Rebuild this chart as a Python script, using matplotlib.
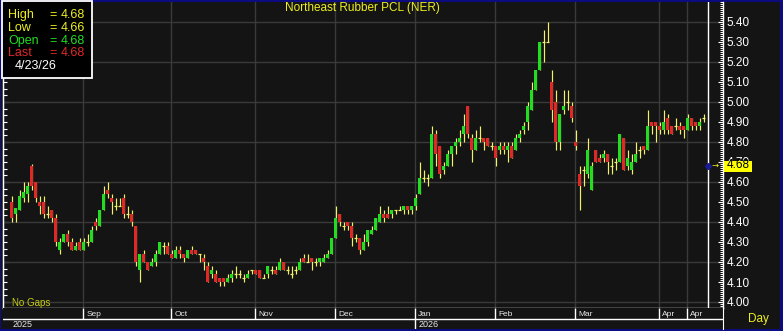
import matplotlib
matplotlib.use("Agg")
import matplotlib.pyplot as plt
import matplotlib.transforms as mtransforms
from matplotlib.patches import Rectangle
from matplotlib.ticker import MultipleLocator, FixedLocator
import numpy as np

plt.rcParams['font.family'] = ['Liberation Sans', 'DejaVu Sans']

# ---------------- data ----------------
title = "Northeast Rubber PCL (NER)"

opens = [4.50,4.44,4.46,4.52,4.54,4.68,4.60,4.50,4.50,4.44,
         4.46,4.42,4.26,4.30,4.34,4.30,4.26,4.30,4.26,4.30,
         4.30,4.40,4.38,4.46,4.56,4.52,4.48,4.48,4.52,4.44,
         4.44,4.38,4.16,4.24,4.20,4.18,4.20,4.24,4.28,4.28,
         4.24,4.22,4.26,4.24,4.22,4.26,4.26,4.24,4.22,4.18,
         4.14,4.14,4.12,4.12,4.10,4.12,4.14,4.14,4.12,4.12,
         4.16,4.16,4.16,4.12,4.14,4.16,4.16,4.16,4.20,4.16,
         4.14,4.16,4.16,4.22,4.20,4.22,4.20,4.20,4.20,4.22,
         4.24,4.32,4.44,4.38,4.40,4.38,4.32,4.32,4.26,4.30,
         4.34,4.36,4.40,4.44,4.44,4.44,4.46,4.46,4.46,4.48,
         4.46,4.48,4.54,4.62,4.62,4.62,4.84,4.78,4.66,4.68,
         4.74,4.78,4.80,4.84,4.98,4.82,4.76,4.82,4.82,4.82,
         4.78,4.78,4.76,4.78,4.76,4.78,4.76,4.82,4.86,4.90,
         4.96,5.06,5.16,5.30,5.30,5.10,5.00,4.80,4.96,5.00,
         4.98,4.80,4.64,4.66,4.64,4.56,4.76,4.72,4.72,4.74,
         4.68,4.70,4.70,4.82,4.68,4.66,4.70,4.76,4.78,4.76,
         4.90,4.90,4.88,4.86,4.92,4.88,4.88,4.88,4.88,4.86,
         4.92,4.90,4.88,4.92]
highs = [4.53,4.47,4.56,4.60,4.60,4.69,4.60,4.53,4.53,4.48,
         4.46,4.44,4.32,4.34,4.36,4.32,4.30,4.32,4.32,4.34,
         4.38,4.42,4.46,4.58,4.60,4.54,4.52,4.52,4.54,4.48,
         4.46,4.38,4.24,4.26,4.20,4.22,4.26,4.30,4.30,4.30,
         4.26,4.28,4.28,4.24,4.26,4.28,4.26,4.24,4.24,4.20,
         4.18,4.16,4.12,4.12,4.14,4.16,4.18,4.16,4.14,4.16,
         4.16,4.16,4.16,4.14,4.18,4.18,4.18,4.22,4.20,4.18,
         4.18,4.18,4.22,4.24,4.24,4.22,4.22,4.22,4.24,4.26,
         4.32,4.48,4.44,4.40,4.40,4.40,4.34,4.32,4.34,4.36,
         4.38,4.42,4.48,4.46,4.48,4.46,4.46,4.48,4.48,4.48,
         4.48,4.54,4.70,4.66,4.64,4.88,4.86,4.78,4.70,4.76,
         4.78,4.82,4.86,4.94,4.98,4.84,4.86,4.88,4.82,4.82,
         4.80,4.78,4.80,4.80,4.80,4.80,4.84,4.86,4.90,5.00,
         5.10,5.16,5.30,5.36,5.40,5.16,5.06,4.94,5.06,5.06,
         5.00,4.86,4.68,4.68,4.82,4.70,4.76,4.74,4.76,4.74,
         4.72,4.72,4.84,4.82,4.76,4.74,4.80,4.78,4.78,4.96,
         4.90,4.90,4.90,4.96,4.94,4.88,4.92,4.90,4.88,4.94,
         4.92,4.90,4.92,4.94]
lows = [4.40,4.40,4.46,4.50,4.50,4.56,4.50,4.44,4.42,4.42,
        4.40,4.28,4.24,4.30,4.28,4.26,4.26,4.26,4.26,4.28,
        4.30,4.36,4.38,4.46,4.52,4.44,4.46,4.48,4.42,4.42,
        4.38,4.18,4.10,4.20,4.16,4.18,4.18,4.24,4.24,4.24,
        4.22,4.22,4.22,4.20,4.22,4.24,4.24,4.20,4.16,4.10,
        4.12,4.10,4.08,4.08,4.10,4.10,4.12,4.12,4.10,4.12,
        4.14,4.14,4.12,4.12,4.12,4.14,4.14,4.16,4.16,4.14,
        4.12,4.14,4.16,4.20,4.20,4.16,4.18,4.18,4.20,4.22,
        4.24,4.32,4.38,4.36,4.36,4.28,4.30,4.24,4.26,4.28,
        4.34,4.36,4.40,4.40,4.42,4.42,4.44,4.46,4.44,4.44,
        4.44,4.46,4.54,4.60,4.58,4.62,4.68,4.62,4.64,4.68,
        4.68,4.74,4.78,4.80,4.82,4.70,4.76,4.80,4.76,4.78,
        4.76,4.68,4.74,4.74,4.70,4.72,4.76,4.80,4.84,4.86,
        4.96,5.06,5.16,5.20,5.30,4.90,4.76,4.76,4.94,4.96,
        4.90,4.76,4.46,4.58,4.62,4.56,4.70,4.70,4.70,4.64,
        4.64,4.66,4.70,4.66,4.66,4.64,4.70,4.72,4.74,4.76,
        4.84,4.80,4.84,4.84,4.84,4.84,4.86,4.84,4.82,4.86,
        4.86,4.86,4.86,4.90]
closes = [4.42,4.47,4.53,4.55,4.58,4.58,4.52,4.48,4.44,4.44,
          4.42,4.30,4.30,4.34,4.30,4.26,4.28,4.26,4.30,4.30,
          4.36,4.38,4.46,4.54,4.54,4.50,4.48,4.48,4.44,4.44,
          4.40,4.20,4.24,4.20,4.16,4.20,4.24,4.30,4.28,4.24,
          4.22,4.26,4.24,4.22,4.26,4.24,4.24,4.24,4.20,4.10,
          4.16,4.10,4.10,4.10,4.12,4.14,4.14,4.14,4.12,4.14,
          4.16,4.14,4.12,4.12,4.18,4.16,4.14,4.20,4.16,4.16,
          4.14,4.16,4.20,4.20,4.20,4.20,4.20,4.22,4.22,4.24,
          4.32,4.42,4.40,4.38,4.38,4.32,4.32,4.26,4.30,4.36,
          4.36,4.42,4.44,4.42,4.42,4.46,4.46,4.46,4.48,4.46,
          4.48,4.52,4.62,4.62,4.62,4.84,4.74,4.64,4.68,4.74,
          4.78,4.80,4.82,4.88,4.84,4.76,4.82,4.82,4.80,4.78,
          4.78,4.72,4.78,4.76,4.78,4.72,4.82,4.84,4.88,4.98,
          5.06,5.16,5.30,5.30,5.30,4.96,4.80,4.94,4.98,5.00,
          4.92,4.78,4.58,4.66,4.76,4.68,4.70,4.70,4.74,4.70,
          4.68,4.70,4.84,4.66,4.72,4.70,4.74,4.76,4.76,4.88,
          4.88,4.88,4.86,4.90,4.86,4.84,4.88,4.86,4.86,4.92,
          4.88,4.88,4.90,4.92]

last_date = "4/23/26"
last_high = 4.68
last_low = 4.66
last_open = 4.68
last_close = 4.68

month_labels = ["Sep", "Oct", "Nov", "Dec", "Jan", "Feb", "Mar", "Apr", "Apr"]
month_starts = [19, 41, 62, 82, 102, 122, 142, 163, 170]
year_labels = ["2025", "2026"]
year_starts = [1, 102]

y_tick_values = [4.00, 4.10, 4.20, 4.30, 4.40, 4.50, 4.60, 4.70,
                 4.80, 4.90, 5.00, 5.10, 5.20, 5.30, 5.40]
y_tick_labels = ["4.00", "4.10", "4.20", "4.30", "4.40", "4.50", "4.60", "4.70",
                 "4.80", "4.90", "5.00", "5.10", "5.20", "5.30", "5.40"]
grid_values = [4.00, 4.20, 4.40, 4.60, 4.80, 5.00, 5.20, 5.40]

# ---------------- style ----------------
W, H = 783, 331
NAVY = '#0c0c80'
BG = '#141414'
GRID = '#3a3a3a'
GREEN = '#22dd22'
RED = '#e02828'
WICK = '#f2f26a'
YEL = '#eeee22'

def fx(px):
    return px / W

def fy(py):
    return 1 - py / H

fig = plt.figure(figsize=(W / 100, H / 100), dpi=100)
fig.patch.set_facecolor(NAVY)
fig.add_artist(Rectangle((fx(1), fy(329)), fx(779), 327 / H,
                         transform=fig.transFigure, facecolor=BG,
                         edgecolor='none', zorder=-10))

# ---------------- main price axes ----------------
ax = fig.add_axes([fx(3), fy(308), 720 / W, 306 / H])
ax.set_facecolor(BG)
n = len(opens)
idx = np.arange(1, n + 1)
o = np.array(opens); h = np.array(highs); l = np.array(lows); c = np.array(closes)

ax.set_xlim(-1.125, 178.875)
ax.set_ylim(3.97, 5.50)

for g in grid_values:
    ax.axhline(g, color=GRID, lw=1.0, zorder=0.5)
for m in month_starts:
    ax.axvline(m - 0.15, color=GRID, lw=1.0, zorder=0.5)

ax.vlines(idx, l, h, color=WICK, lw=0.85, zorder=2)
up = c > o
dn = c < o
eq = c == o
ax.bar(idx[up], (c - o)[up], bottom=o[up], width=0.78, color=GREEN,
       linewidth=0, zorder=3)
ax.bar(idx[dn], (o - c)[dn], bottom=c[dn], width=0.78, color=RED,
       linewidth=0, zorder=3)
ax.hlines(c[eq], idx[eq] - 0.42, idx[eq] + 0.42, color=WICK, lw=0.9, zorder=3)

# current-day marker line and dot
cur_x = n + 1
ax.axvline(cur_x, color='white', lw=1.0, zorder=4)
ax.plot([cur_x], [last_close], marker='D', ms=3, color='#1a1a9a',
        mec='#1a1a9a', zorder=5)

# spines
for s in ['top']:
    ax.spines[s].set_visible(False)
for s in ['left', 'right', 'bottom']:
    ax.spines[s].set_color('white')
    ax.spines[s].set_linewidth(1.0)

ax.set_xticks([])
ax.yaxis.tick_right()
ax.set_yticks(y_tick_values)
ax.set_yticklabels(y_tick_labels)
ax.yaxis.set_minor_locator(MultipleLocator(0.01))
ax.tick_params(axis='y', which='major', direction='in', length=3.5, width=0.8,
               color='white', labelcolor='white', labelsize=8.5, pad=2.4)
ax.tick_params(axis='y', which='minor', direction='in', length=2, width=0.7,
               color='white')

# left tick marks
sec = ax.secondary_yaxis('left')
sec.set_yticks(grid_values)
sec.set_yticklabels([])
sec.yaxis.set_minor_locator(MultipleLocator(0.2 / 6))
sec.tick_params(which='major', direction='in', length=4, width=0.8, color='white')
sec.tick_params(which='minor', direction='in', length=3, width=0.8, color='white')
sec.spines['left'].set_color('white')

# last value label on right axis
bt = mtransforms.blended_transform_factory(ax.transAxes, ax.transData)
fig.add_artist(Rectangle((1.0015, last_close - 0.0285), 28 / 720, 0.056,
                         transform=bt, facecolor='#ffff00', edgecolor='none',
                         zorder=20))
fig.text(1.0045, last_close + 0.003, "%.2f" % last_close, transform=bt,
         color='black', fontsize=8.5, ha='left', va='center', zorder=21)
fig.text(fx(712), fy(165), "\u2192", color=YEL, fontsize=6,
         family='DejaVu Sans', ha='left', va='center')

# ---------------- date axes ----------------
axd = fig.add_axes([fx(3), fy(329), 720 / W, 21 / H])
axd.set_facecolor(BG)
axd.set_xlim(-1.125, 178.875)
axd.set_ylim(21, 0)
axd.set_xticks([]); axd.set_yticks([])
for s in ['top', 'left', 'bottom']:
    axd.spines[s].set_visible(False)
axd.spines['right'].set_color('white')
axd.axhline(11, color='white', lw=1.0)
for m, lab in zip(month_starts, month_labels):
    ymax = 21 if m in year_starts else 11
    axd.vlines(m - 0.15, 0, ymax, color='white', lw=1.0)
    axd.text(m + 0.7, 6, lab, color='#e8e8e8', fontsize=6, ha='left', va='center')
for ys, lab in zip(year_starts, year_labels):
    axd.text(ys + 0.7 if ys > 1 else ys + 0.2, 16.5, lab, color='#e8e8e8',
             fontsize=6.5, ha='left', va='center')

# ---------------- texts ----------------
fig.text(fx(362), fy(8), title, color=YEL, fontsize=8.5, ha='center', va='center')
fig.text(fx(12), fy(303), "No Gaps", color='#c8cc10', fontsize=7, ha='left', va='center')
fig.text(fx(748), fy(319), "Day", color=YEL, fontsize=8.5, ha='left', va='center')

# legend box
fig.add_artist(Rectangle((fx(1.5), fy(77.5)), fx(90), 77 / H,
                         transform=fig.transFigure, facecolor='black',
                         edgecolor='white', lw=1.3, zorder=30))
rows = [("High", last_high, YEL, 15), ("Low", last_low, YEL, 28),
        ("Open", last_open, '#22dd22', 41), ("Last", last_close, '#e02828', 53.5)]
for name, val, col, yy in rows:
    fig.text(fx(8), fy(yy), name, color=col, fontsize=9, ha='left', va='center', zorder=31)
    fig.text(fx(49), fy(yy), "=", color=col, fontsize=9, ha='left', va='center', zorder=31)
    fig.text(fx(61), fy(yy), "%.2f" % val, color=col, fontsize=9, ha='left', va='center', zorder=31)
fig.text(fx(15), fy(66), last_date, color='white', fontsize=9, ha='left', va='center', zorder=31)

fig.savefig("out.png", dpi=100, facecolor=fig.get_facecolor())
